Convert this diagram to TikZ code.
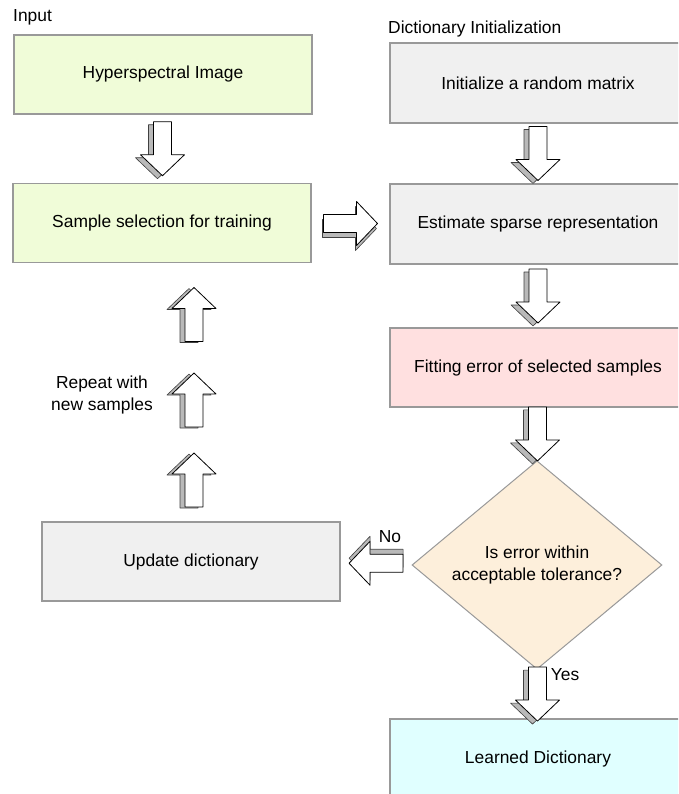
\documentclass[tikz,border=0pt]{standalone}
\usepackage{fontspec}
\setmainfont{Liberation Sans}
\usetikzlibrary{shapes.geometric,calc}
\definecolor{boxgreen}{RGB}{240,252,216}
\definecolor{boxgray}{RGB}{240,240,240}
\definecolor{boxpink}{RGB}{255,224,224}
\definecolor{boxbeige}{RGB}{253,239,219}
\definecolor{boxcyan}{RGB}{224,255,255}
\definecolor{strokegray}{RGB}{153,153,153}
\newcommand{\myfs}{\fontsize{17.4}{22}\selectfont}
\newcommand{\barrowpath}{(-27,-9) -- (6,-9) -- (6,-22) -- (27,0) -- (6,22) -- (6,9) -- (-27,9) -- cycle}
\newcommand{\barrow}[4]{%
  \begin{scope}[shift={(#1)}]
    \begin{scope}[shift={(#3,#4)},rotate=#2]
      \filldraw[adepth] \barrowpath;
    \end{scope}
    \begin{scope}[rotate=#2]
      \filldraw[aface] \barrowpath;
    \end{scope}
  \end{scope}}
\tikzset{
  box/.style={draw=strokegray, line width=1.2pt, minimum width=298pt, minimum height=79pt, inner sep=0pt, font=\myfs},
  lbl/.style={font=\myfs, inner sep=0pt},
  aface/.style={fill=white, draw=black, line width=0.8pt, line join=round},
  adepth/.style={fill=gray!55, draw=black!75, line width=0.6pt, line join=round}
}
\begin{document}
\begin{tikzpicture}[x=1pt,y=-1pt]
\useasboundingbox (0,0) rectangle (678,794);
\clip (0,0) rectangle (678,794);
% labels
\node[lbl, anchor=west] (inlbl) at (13,17) {Input};
\node[lbl, anchor=west] (dilbl) at (388,29) {Dictionary Initialization};
% boxes
\node[box, fill=boxgreen] (hsi) at (163,74.5) {Hyperspectral Image};
\node[box, fill=boxgreen] (sample) at (162,223) {Sample selection for training};
\node[box, fill=boxgray, minimum width=296pt, minimum height=80pt] (init) at (538,83) {Initialize a random matrix};
\node[box, fill=boxgray, minimum width=296pt, minimum height=80pt] (est) at (538,224) {Estimate sparse representation};
\node[box, fill=boxpink, minimum width=296pt] (fit) at (538,367.5) {Fitting error of selected samples};
\node[box, fill=boxbeige, diamond, aspect=1, minimum width=250pt, minimum height=180pt, align=center, line width=1pt] (dec) at (537,565) {Is error within\\acceptable tolerance?};
\node[box, fill=boxgray] (upd) at (191,561.5) {Update dictionary};
\node[box, fill=boxcyan, minimum width=296pt, minimum height=80pt] (learn) at (538,759) {Learned Dictionary};
\node[lbl, align=center] (rep) at (102,395) {Repeat with\\new samples};
\node[lbl] (nolbl) at (390,537) {No};
\node[lbl] (yeslbl) at (565,675) {Yes};
% arrow positions
\coordinate (a1) at ($(hsi.south)!0.5!(sample.north)$);
\coordinate (a2) at ($(init.south)!0.5!(est.north)$);
\coordinate (a3) at ($(est.south)!0.5!(fit.north)$);
\coordinate (a4) at ($(fit.south)!0.5!(dec.north)$);
\coordinate (a5) at ($(sample.east)!0.5!(est.west)$);
\coordinate (a6) at ($(dec.west)!0.5!(upd.east)$);
\coordinate (a7) at ($(dec.south)!0.5!(learn.north)$);
\coordinate (r1) at (194,314.5);
\coordinate (r2) at (194,400);
\coordinate (r3) at (194,480);
% block arrows
\barrow{a1}{-90}{-5}{3}
\barrow{a2}{-90}{-5}{3}
\barrow{a3}{-90}{-5}{3}
\barrow{a4}{-90}{-5}{3}
\barrow{a5}{0}{-1}{5}
\barrow{a6}{180}{0}{-5}
\barrow{a7}{-90}{-5}{3}
\barrow{r1}{90}{-5}{1}
\barrow{r2}{90}{-5}{1}
\barrow{r3}{90}{-5}{1}
\end{tikzpicture}
\end{document}
